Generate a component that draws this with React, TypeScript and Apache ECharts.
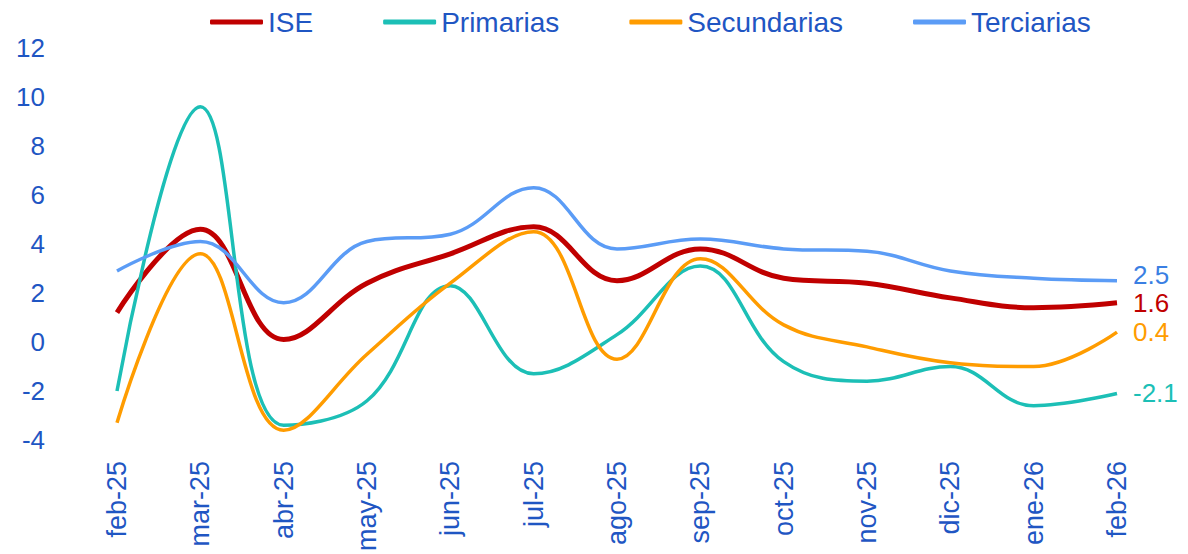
import React, { useEffect, useRef } from "react";
import * as echarts from "echarts";

const categories = ["feb-25", "mar-25", "abr-25", "may-25", "jun-25", "jul-25", "ago-25", "sep-25", "oct-25", "nov-25", "dic-25", "ene-26", "feb-26"];
const ise = [1.2, 4.6, 0.1, 2.4, 3.6, 4.7, 2.5, 3.8, 2.6, 2.4, 1.8, 1.4, 1.6];
const primarias = [-2.0, 9.6, -3.4, -2.4, 2.3, -1.3, 0.3, 3.1, -0.8, -1.6, -1.0, -2.6, -2.1];
const secundarias = [-3.3, 3.6, -3.6, -0.5, 2.4, 4.5, -0.7, 3.4, 0.7, -0.2, -0.85, -1.0, 0.4];
const terciarias = [2.9, 4.1, 1.6, 4.1, 4.4, 6.3, 3.8, 4.2, 3.8, 3.7, 2.9, 2.6, 2.5];

const TEXT = "#1F56C3";
const FONT = "Liberation Sans, Arial, sans-serif";

export default function App() {
  const ref = useRef<HTMLDivElement>(null);
  useEffect(() => {
    const chart = echarts.init(ref.current!, null, { renderer: "svg" });
    const mk = (name: string, data: number[], color: string, width: number, labelColor: string, offset: number[]) => ({
      name,
      type: "line",
      data,
      smooth: 0.4,
      symbol: "none",
      lineStyle: { color, width },
      itemStyle: { color },
      endLabel: {
        show: true,
        formatter: (p: any) => String(p.value),
        color: labelColor,
        fontSize: 26,
        fontFamily: FONT,
        distance: 16,
        offset,
      },
    });
    chart.setOption({
      animation: false,
      textStyle: { fontFamily: FONT },
      legend: {
        top: 3,
        left: 205,
        icon: "roundRect",
        itemWidth: 53,
        itemHeight: 5,
        itemGap: 70,
        textStyle: { color: TEXT, fontSize: 28, fontFamily: FONT },
        data: ["ISE", "Primarias", "Secundarias", "Terciarias"],
      },
      grid: { left: 117, right: 71, top: 48, bottom: 113, containLabel: false },
      xAxis: {
        type: "category",
        data: categories,
        boundaryGap: false,
        axisLine: { show: false },
        axisTick: { show: false },
        axisLabel: { rotate: 90, color: TEXT, fontSize: 27, fontFamily: FONT, margin: 21 },
      },
      yAxis: {
        type: "value",
        min: -4,
        max: 12,
        interval: 2,
        splitLine: { show: false },
        axisLine: { show: false },
        axisTick: { show: false },
        axisLabel: { color: TEXT, fontSize: 26, fontFamily: FONT, margin: 72, align: "right" },
      },
      series: [
        mk("ISE", ise, "#C00000", 5, "#C00000", [0, 0]),
        mk("Primarias", primarias, "#1CBFB6", 3.5, "#1CBFB6", [0, 0]),
        mk("Secundarias", secundarias, "#FF9C00", 3.5, "#FF9C00", [0, 0]),
        mk("Terciarias", terciarias, "#5B9CF6", 3.5, "#3A7FE3", [0, -6]),
      ],
    });
    return () => chart.dispose();
  }, []);
  return <div ref={ref} style={{ width: 1188, height: 554, position: "absolute", left: 0, top: 0 }} />;
}
